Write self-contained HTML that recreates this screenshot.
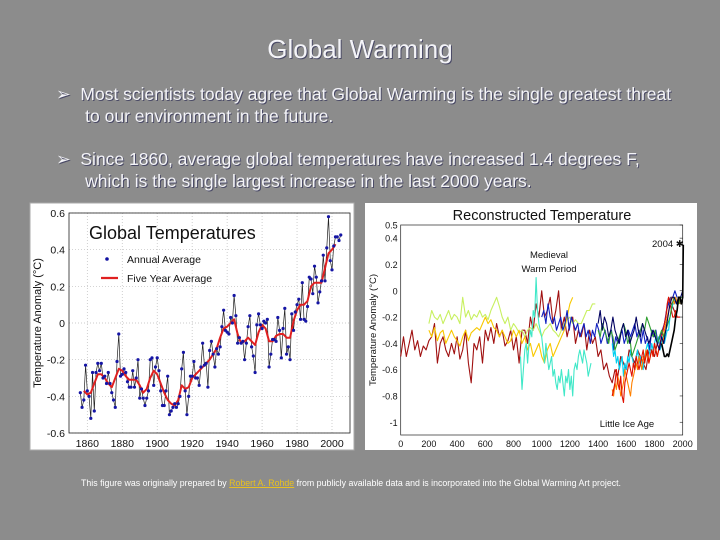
<!DOCTYPE html>
<html><head><meta charset="utf-8">
<style>
html,body{margin:0;padding:0;}
body{width:720px;height:540px;background:#8c8c8c;position:relative;overflow:hidden;font-family:"Liberation Sans",sans-serif;}
.t{position:absolute;color:#f4f4f8;text-shadow:1px 1px 0 #4a4a66;white-space:nowrap;}
svg{position:absolute;left:0;top:0;}
</style></head>
<body>
<div class="t" style="left:0;width:720px;text-align:center;top:34px;font-size:26px;">Global Warming</div>
<div class="t" style="left:56px;top:83px;font-size:17.5px;line-height:22px;">&#x27A2;&nbsp;&nbsp;Most scientists today agree that Global Warming is the single greatest threat<br>&nbsp;&nbsp;&nbsp;&nbsp;&nbsp;&nbsp;to our environment in the future.</div>
<div class="t" style="left:56px;top:148px;font-size:17.5px;line-height:22px;">&#x27A2;&nbsp;&nbsp;Since 1860, average global temperatures have increased 1.4 degrees F,<br>&nbsp;&nbsp;&nbsp;&nbsp;&nbsp;&nbsp;which is the single largest increase in the last 2000 years.</div>
<div class="t" style="left:81px;top:478px;font-size:8.8px;text-shadow:none;color:#fff;">This figure was originally prepared by <span style="color:#e8c020;text-decoration:underline;">Robert A. Rohde</span> from publicly available data and is incorporated into the Global Warming Art project.</div>

<svg id="s" width="720" height="540" xmlns="http://www.w3.org/2000/svg" font-family="Liberation Sans, sans-serif">
<rect x="30" y="203" width="324" height="247" fill="#fff" stroke="#aaa"/>
<rect x="365" y="203" width="332" height="247" fill="#fff"/>
<g id="L"></g><g id="R"></g>
</svg>
<script>
// ---------- Left chart data ----------
const annualStart = 1856;
const annualValues = [-0.38,-0.46,-0.42,-0.23,-0.37,-0.40,-0.52,-0.27,-0.48,-0.27,-0.22,-0.26,-0.22,-0.30,-0.29,-0.33,-0.27,-0.33,-0.38,-0.42,-0.46,-0.21,-0.06,-0.29,-0.28,-0.25,-0.27,-0.32,-0.35,-0.35,-0.26,-0.35,-0.30,-0.20,-0.41,-0.36,-0.41,-0.45,-0.41,-0.37,-0.20,-0.19,-0.34,-0.24,-0.19,-0.26,-0.37,-0.45,-0.45,-0.37,-0.29,-0.50,-0.48,-0.46,-0.44,-0.46,-0.44,-0.40,-0.25,-0.16,-0.37,-0.50,-0.40,-0.29,-0.29,-0.21,-0.30,-0.30,-0.34,-0.24,-0.11,-0.23,-0.22,-0.35,-0.15,-0.10,-0.17,-0.24,-0.14,-0.17,-0.13,-0.02,0.07,-0.04,-0.05,-0.06,0.03,0.00,0.15,0.04,-0.11,-0.08,-0.11,-0.10,-0.20,-0.11,-0.02,0.04,-0.13,-0.18,-0.27,-0.01,0.05,-0.01,-0.03,0.01,0.00,0.02,-0.24,-0.17,-0.09,-0.09,-0.10,0.03,-0.04,-0.19,-0.03,0.08,-0.17,-0.13,-0.20,0.05,-0.04,0.06,0.10,0.13,0.02,0.22,0.02,0.01,0.09,0.25,0.24,0.16,0.31,0.25,0.11,0.17,0.23,0.37,0.23,0.41,0.58,0.34,0.29,0.42,0.47,0.47,0.45,0.48];
const fiveYearStart = 1858;
const fiveYearStep = 2;
const fiveYearValues = [-0.37,-0.39,-0.38,-0.33,-0.28,-0.28,-0.30,-0.33,-0.35,-0.30,-0.25,-0.26,-0.29,-0.31,-0.31,-0.31,-0.34,-0.38,-0.36,-0.30,-0.26,-0.28,-0.33,-0.38,-0.42,-0.44,-0.45,-0.42,-0.34,-0.36,-0.35,-0.30,-0.28,-0.26,-0.24,-0.22,-0.20,-0.17,-0.14,-0.08,-0.03,-0.02,0.00,0.02,-0.06,-0.11,-0.10,-0.08,-0.10,-0.12,-0.05,-0.01,-0.03,-0.10,-0.10,-0.07,-0.06,-0.06,-0.08,-0.08,0.01,0.07,0.10,0.10,0.12,0.20,0.22,0.22,0.22,0.30,0.38,0.40,0.43];
const leftYTicks = [0.6,0.4,0.2,0,-0.2,-0.4,-0.6];
const leftYLabels = ["0.6","0.4","0.2","0","-0.2","-0.4","-0.6"];
const leftXTicks = [1860,1880,1900,1920,1940,1960,1980,2000];

// ---------- Right chart data ----------
const rightYTicks = [0.5,0.4,0.2,0,-0.2,-0.4,-0.6,-0.8,-1];
const rightYLabels = ["0.5","0.4","0.2","0","-0.2","-0.4","-0.6","-0.8","-1"];
const rightXTicks = [0,200,400,600,800,1000,1200,1400,1600,1800,2000];
const seriesColors = ["#a01010","#c8f060","#f8c800","#40e8c8","#1020c0","#00d0f0","#ff8000","#e01000","#30a030","#000060","#000000"];
const seriesStarts = [0,200,200,850,1000,1500,1500,1500,1400,1400,1850];
const seriesSteps = [20,20,20,10,15,10,10,10,15,15,10];
const s0 = [-0.5,-0.35,-0.5,-0.4,-0.3,-0.45,-0.38,-0.5,-0.42,-0.45,-0.38,-0.35,-0.25,-0.55,-0.4,-0.35,-0.45,-0.5,-0.4,-0.48,-0.35,-0.52,-0.45,-0.3,-0.55,-0.7,-0.4,-0.45,-0.35,-0.55,-0.3,-0.38,-0.28,-0.4,-0.25,-0.35,-0.3,-0.42,-0.38,-0.3,-0.45,-0.35,-0.55,-0.3,-0.3,-0.4,-0.2,-0.3,-0.1,-0.2,0.0,-0.2,-0.15,-0.05,-0.25,-0.15,0.0,-0.3,-0.2,-0.35,-0.25,-0.2,-0.4,-0.3,-0.35,-0.25,-0.45,-0.3,-0.4,-0.35,-0.5,-0.45,-0.6,-0.55,-0.65,-0.7,-0.6,-0.65,-0.5,-0.55,-0.6,-0.45,-0.5,-0.55,-0.45,-0.5,-0.55,-0.6,-0.45,-0.45,-0.5,-0.4,-0.35,-0.3,-0.2,-0.05,-0.1,-0.15,-0.2,-0.2];
const s1 = [-0.25,-0.15,-0.2,-0.22,-0.18,-0.25,-0.2,-0.15,-0.22,-0.18,-0.2,-0.25,-0.05,-0.2,-0.15,-0.22,-0.18,-0.2,-0.15,-0.2,-0.18,-0.22,-0.15,-0.1,-0.05,-0.12,-0.2,-0.25,-0.2,-0.3,-0.25,-0.28,-0.32,-0.3,-0.35,-0.3,-0.28,-0.3,-0.25,-0.3,-0.35,-0.3,-0.28,-0.25,-0.3,-0.32,-0.35,-0.3,-0.25,-0.22,-0.2,-0.25,-0.22,-0.25,-0.25,-0.2,-0.15,-0.15,-0.1,-0.1];
const s2 = [-0.3,-0.35,-0.28,-0.38,-0.32,-0.3,-0.4,-0.35,-0.3,-0.35,-0.38,-0.42,-0.35,-0.3,-0.38,-0.32,-0.3,-0.28,-0.3,-0.25,-0.2,-0.25,-0.22,-0.28,-0.3,-0.35,-0.3,-0.35,-0.4,-0.38,-0.3,-0.35,-0.3,-0.4,-0.35,-0.45,-0.4,-0.5,-0.45,-0.4,-0.5,-0.55,-0.45,-0.4,-0.5,-0.45,-0.4,-0.35,-0.3,-0.2,-0.1,-0.05];
const s3 = [-0.5,-0.75,-0.6,-0.45,-0.4,-0.55,-0.4,-0.3,-0.35,-0.15,-0.2,0.1,-0.15,-0.25,-0.3,-0.35,-0.45,-0.55,-0.4,-0.5,-0.6,-0.55,-0.5,-0.65,-0.6,-0.7,-0.75,-0.65,-0.7,-0.6,-0.7,-0.8,-0.65,-0.7,-0.6,-0.75,-0.65,-0.8,-0.6,-0.55,-0.6,-0.5,-0.45,-0.5,-0.55,-0.45,-0.5,-0.55,-0.65,-0.6,-0.55];
const s4 = [-0.2,-0.15,-0.25,-0.1,-0.2,-0.25,-0.2,-0.3,-0.25,-0.2,-0.3,-0.25,-0.15,-0.3,-0.2,-0.25,-0.3,-0.25,-0.35,-0.3,-0.25,-0.35,-0.3,-0.4,-0.3,-0.35,-0.25,-0.3,-0.4,-0.35,-0.3,-0.4,-0.35,-0.3,-0.45,-0.35,-0.4,-0.35,-0.3,-0.4,-0.35,-0.3,-0.35,-0.3,-0.25,-0.35,-0.3,-0.4,-0.3,-0.4,-0.35,-0.45,-0.3,-0.35,-0.3,-0.4,-0.35,-0.3,-0.25,-0.15,-0.1,-0.05,-0.05,0.0,-0.05];
const s5 = [-0.4,-0.5,-0.45,-0.55,-0.5,-0.6,-0.55,-0.5,-0.65,-0.55,-0.6,-0.5,-0.55,-0.45,-0.5,-0.55,-0.6,-0.5,-0.45,-0.55,-0.5,-0.55,-0.6,-0.5,-0.45,-0.4,-0.45,-0.5,-0.4,-0.45,-0.4,-0.35,-0.4,-0.35,-0.45,-0.4,-0.35,-0.4,-0.35,-0.3,-0.3,-0.2,-0.15,-0.1,-0.1,-0.05,-0.1,-0.05,-0.1];
const s6 = [-0.75,-0.8,-0.7,-0.75,-0.65,-0.7,-0.8,-0.75,-0.7,-0.6,-0.65,-0.7,-0.75,-0.8,-0.7,-0.65,-0.6,-0.55,-0.6,-0.5,-0.55,-0.6,-0.5,-0.55,-0.45,-0.5,-0.55,-0.5,-0.45,-0.5,-0.4,-0.45,-0.5,-0.45,-0.4,-0.35,-0.4,-0.3,-0.25,-0.2,-0.15,-0.1,-0.05,-0.05,-0.1,-0.05,-0.1,-0.05,-0.1];
const s7 = [-0.8,-0.75,-0.7,-0.6,-0.7,-0.75,-0.65,-0.8,-0.85,-0.7,-0.65,-0.6,-0.55,-0.6,-0.65,-0.55,-0.6,-0.5,-0.55,-0.6,-0.55,-0.5,-0.45,-0.55,-0.5,-0.45,-0.55,-0.5,-0.45,-0.5,-0.4,-0.45,-0.5,-0.45,-0.4,-0.35,-0.3,-0.25,-0.2,-0.1,-0.05,-0.1,-0.15,-0.2,-0.2,-0.15,-0.2,-0.2,-0.2];
const s8 = [-0.3,-0.35,-0.25,-0.3,-0.35,-0.4,-0.3,-0.35,-0.45,-0.4,-0.35,-0.3,-0.25,-0.3,-0.4,-0.35,-0.5,-0.45,-0.4,-0.35,-0.3,-0.25,-0.3,-0.2,-0.25,-0.3,-0.35,-0.3,-0.4,-0.35,-0.3,-0.35,-0.3,-0.25,-0.2,-0.1,-0.05,-0.1,-0.1,-0.05,-0.05];
const s9 = [-0.25,-0.15,-0.3,-0.2,-0.25,-0.35,-0.3,-0.2,-0.3,-0.35,-0.4,-0.3,-0.25,-0.35,-0.3,-0.4,-0.35,-0.3,-0.2,-0.3,-0.35,-0.25,-0.3,-0.35,-0.4,-0.35,-0.3,-0.35,-0.4,-0.45,-0.35,-0.4,-0.3,-0.2,-0.1,-0.05,-0.05,-0.1,-0.05,-0.05,0.0];
const s10 = [-0.4,-0.45,-0.5,-0.5,-0.48,-0.5,-0.45,-0.4,-0.35,-0.3,-0.2,-0.15,-0.05,-0.05,-0.1,-0.05,0.35];
const seriesValues = [s0,s1,s2,s3,s4,s5,s6,s7,s8,s9,s10];

const NS="http://www.w3.org/2000/svg";
function mk(parent,tag,attrs,text){const e=document.createElementNS(NS,tag);for(const k in attrs)e.setAttribute(k,attrs[k]);if(text!==undefined)e.textContent=text;parent.appendChild(e);return e;}

// Left axes
const Lx0=69,Lx1=350,Ly0=213,Ly1=433;
const lx=y=>87.3+(y-1860)*(244.7/140);
const ly=v=>Ly0+(0.6-v)*(Ly1-Ly0)/1.2;
const L=document.getElementById('L');
leftYTicks.forEach((t,i)=>{
  const g=mk(L,'line',{x1:Lx0,x2:Lx1,y1:ly(t),y2:ly(t),stroke:'#bbb','stroke-dasharray':'1,2','stroke-width':0.7});
  
  const tx=mk(L,'text',{x:Lx0-4,y:ly(t)+4,'text-anchor':'end','font-size':10.5,fill:'#111'},leftYLabels[i]);
  
});
leftXTicks.forEach(t=>{
  const g=mk(L,'line',{x1:lx(t),x2:lx(t),y1:Ly0,y2:Ly1,stroke:'#bbb','stroke-dasharray':'1,2','stroke-width':0.7});
  
  const tx=mk(L,'text',{x:lx(t),y:Ly1+14,'text-anchor':'middle','font-size':10.5,fill:'#111'},String(t));
  
});
const lf=mk(L,'rect',{x:Lx0,y:Ly0,width:Lx1-Lx0,height:Ly1-Ly0,fill:'none',stroke:'#222','stroke-width':0.8});

const lyt=mk(L,'text',{x:0,y:0,transform:'translate(41,323) rotate(-90)','text-anchor':'middle','font-size':11,fill:'#111'},'Temperature Anomaly (°C)');

const ltt=mk(L,'text',{x:89,y:239,'font-size':18,fill:'#111'},'Global Temperatures');

const ld=mk(L,'circle',{cx:107,cy:259,r:1.8,fill:'#1010a0'});

const la=mk(L,'text',{x:127,y:263,'font-size':10.5,fill:'#111'},'Annual Average');

const ll=mk(L,'line',{x1:101,x2:118,y1:278,y2:278,stroke:'#e02020','stroke-width':2.2});

const lb=mk(L,'text',{x:127,y:282,'font-size':10.5,fill:'#111'},'Five Year Average');


const ap=annualValues.map((v,i)=>lx(annualStart+i).toFixed(1)+','+ly(v).toFixed(1)).join(' ');
const al=mk(L,'polyline',{points:ap,fill:'none',stroke:'#222','stroke-width':0.7});

const fp=fiveYearValues.map((v,i)=>lx(fiveYearStart+i*fiveYearStep).toFixed(1)+','+ly(v).toFixed(1)).join(' ');
const fl=mk(L,'polyline',{points:fp,fill:'none',stroke:'#e02020','stroke-width':2,'stroke-linejoin':'round'});

annualValues.forEach((v,i)=>{
  const c=mk(L,'circle',{cx:lx(annualStart+i),cy:ly(v),r:1.6,fill:'#1515a5'});
  
});

// Right axes
const Rx0=400.7,Rx1=682.7,Ry0=225,Ry1=435;
const rx=y=>Rx0+y*(Rx1-Rx0)/2000;
const ry=v=>225+(0.5-v)*131.5;
const R=document.getElementById('R');
rightYTicks.forEach((t,i)=>{
  const tx=mk(R,'text',{x:Rx0-3,y:ry(t)+3.5,'text-anchor':'end','font-size':9,fill:'#111'},rightYLabels[i]);
  
  const k=mk(R,'line',{x1:Rx1-3,x2:Rx1,y1:ry(t),y2:ry(t),stroke:'#222','stroke-width':0.6});
  
});
rightXTicks.forEach(t=>{
  const tx=mk(R,'text',{x:rx(t),y:Ry1+12,'text-anchor':'middle','font-size':9,fill:'#111'},String(t));
  
});
const rf=mk(R,'rect',{x:Rx0,y:Ry0,width:Rx1-Rx0,height:Ry1-Ry0,fill:'none',stroke:'#222','stroke-width':0.7});

const rt=mk(R,'text',{x:542,y:220,'text-anchor':'middle','font-size':14.5,fill:'#111'},'Reconstructed Temperature');

const ryt=mk(R,'text',{x:0,y:0,transform:'translate(376,330) rotate(-90)','text-anchor':'middle','font-size':9.5,fill:'#111'},'Temperature Anomaly (°C)');

const m1=mk(R,'text',{x:549,y:258,'text-anchor':'middle','font-size':9.5,fill:'#111'},'Medieval');

const m2=mk(R,'text',{x:549,y:272,'text-anchor':'middle','font-size':9.5,fill:'#111'},'Warm Period');

const li=mk(R,'text',{x:627,y:427,'text-anchor':'middle','font-size':9.5,fill:'#111'},'Little Ice Age');

const an=mk(R,'text',{x:652,y:247,'font-size':9.5,fill:'#111'},'2004 ✱');


seriesValues.forEach((arr,si)=>{
  const pts=arr.map((v,i)=>rx(Math.min(2004,seriesStarts[si]+i*seriesSteps[si])).toFixed(1)+','+ry(v).toFixed(1)).join(' ');
  const p=mk(R,'polyline',{points:pts,fill:'none',stroke:seriesColors[si],'stroke-width':si===10?1.6:1.1,'stroke-linejoin':'round'});
  
  
});
</script>
</body></html>
